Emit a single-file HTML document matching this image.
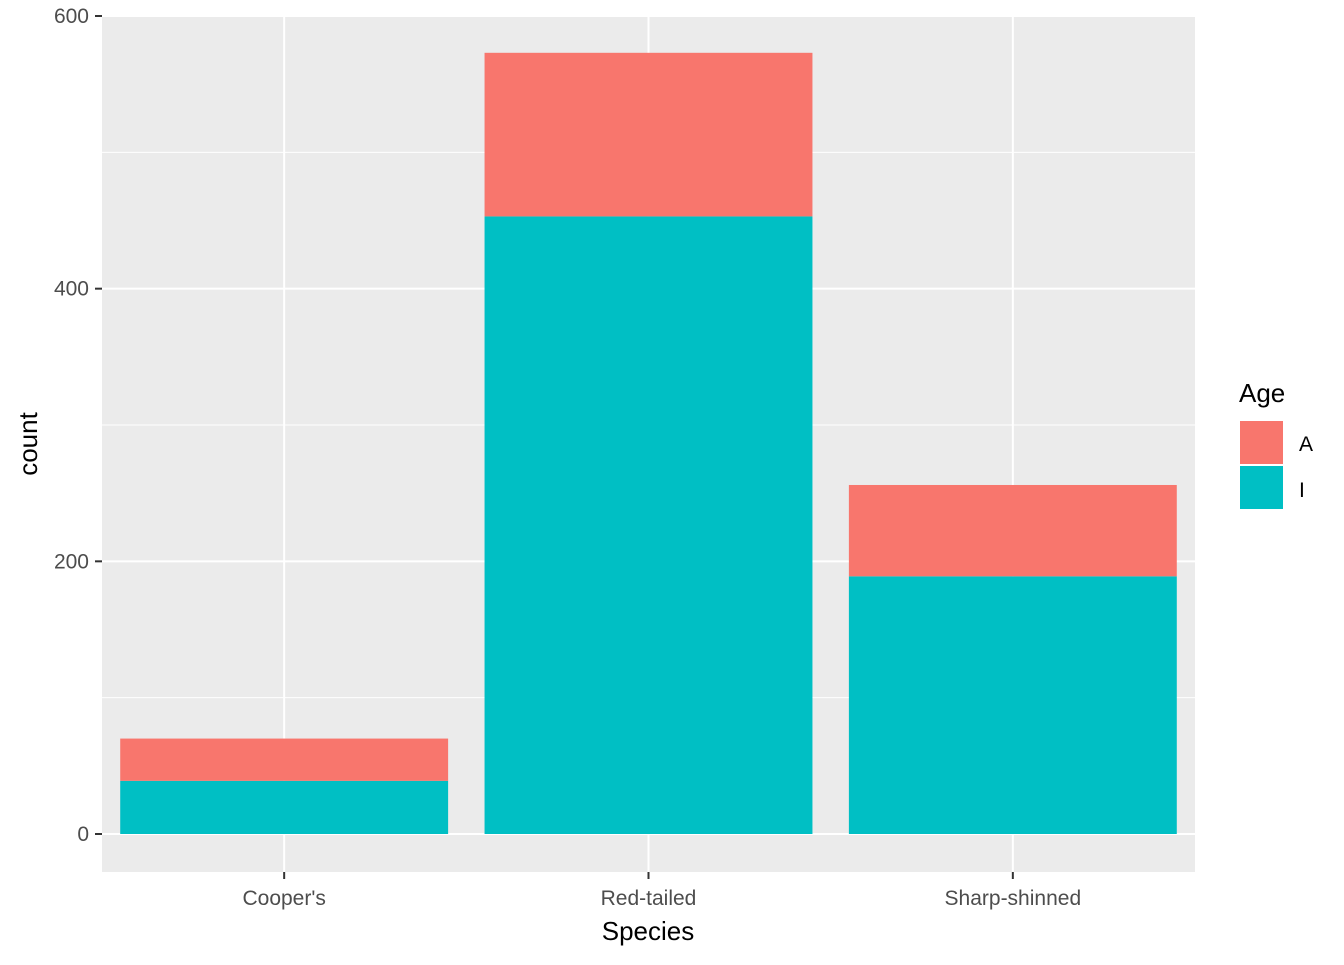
<!DOCTYPE html>
<html><head><meta charset="utf-8"><style>
body{margin:0;background:#fff;font-family:"Liberation Sans",sans-serif;}
</style></head><body>
<svg width="1344" height="960" xmlns="http://www.w3.org/2000/svg">
<rect x="102" y="16" width="1093" height="856" fill="#ebebeb"/>
<g id="grid"></g>
<g id="bars"></g>
<g id="axes"></g>
<text x="648" y="940" font-size="26" text-anchor="middle" fill="#000">Species</text>
<text transform="translate(37,444) rotate(-90)" font-size="26" text-anchor="middle" fill="#000">count</text>
<text x="1239" y="402" font-size="26" fill="#000">Age</text>
<rect x="1240" y="421" width="43" height="43" fill="#f8766d"/>
<rect x="1240" y="466" width="43" height="43" fill="#00bfc4"/>
<text x="1299" y="451" font-size="21" fill="#000">A</text>
<text x="1299" y="497" font-size="21" fill="#000">I</text>
</svg>
<script>
const categories = ["Cooper's", "Red-tailed", "Sharp-shinned"];
const seriesI = [39, 453, 189];
const seriesA = [31, 120, 67];
const yTicks = [0, 200, 400, 600];
const yMinor = [100, 300, 500];

const NS = "http://www.w3.org/2000/svg";
const panelL = 102, panelR = 1195;
function y(v){ return 834 - v * (818/600); }
const step = (panelR - panelL) / categories.length;
function xc(i){ return panelL + step * (i + 0.5); }
const bw = step * 0.9;
function mk(tag, attrs, parent){ const e = document.createElementNS(NS, tag); for (const k in attrs) e.setAttribute(k, attrs[k]); document.getElementById(parent).appendChild(e); return e; }

yMinor.forEach(v => {
  const l = mk("line", {x1: panelL, x2: panelR, y1: y(v), y2: y(v), stroke: "#fff", "stroke-width": 1}, "grid");
  
  
});
yTicks.forEach(v => {
  const l = mk("line", {x1: panelL, x2: panelR, y1: y(v), y2: y(v), stroke: "#fff", "stroke-width": 2}, "grid");
  
  
  const t = mk("line", {x1: 95, x2: 102, y1: y(v), y2: y(v), stroke: "#333", "stroke-width": 2}, "axes");
  
  
  const tx = mk("text", {x: 89, y: y(v) + 7, "font-size": 21, "text-anchor": "end", fill: "#4d4d4d"}, "axes");
  tx.textContent = v;
  
  
});
categories.forEach((c, i) => {
  const g = mk("line", {x1: xc(i), x2: xc(i), y1: 16, y2: 872, stroke: "#fff", "stroke-width": 2}, "grid");
  
  
  const bI = mk("rect", {x: xc(i) - bw/2, y: y(seriesI[i]), width: bw, height: y(0) - y(seriesI[i]), fill: "#00bfc4"}, "bars");
  
  
  const tot = seriesI[i] + seriesA[i];
  const bA = mk("rect", {x: xc(i) - bw/2, y: y(tot), width: bw, height: y(seriesI[i]) - y(tot), fill: "#f8766d"}, "bars");
  
  
  const t = mk("line", {x1: xc(i), x2: xc(i), y1: 872, y2: 879, stroke: "#333", "stroke-width": 2}, "axes");
  
  
  const tx = mk("text", {x: xc(i), y: 905, "font-size": 21, "text-anchor": "middle", fill: "#4d4d4d"}, "axes");
  tx.textContent = c;
  
  
});
</script>
</body></html>
